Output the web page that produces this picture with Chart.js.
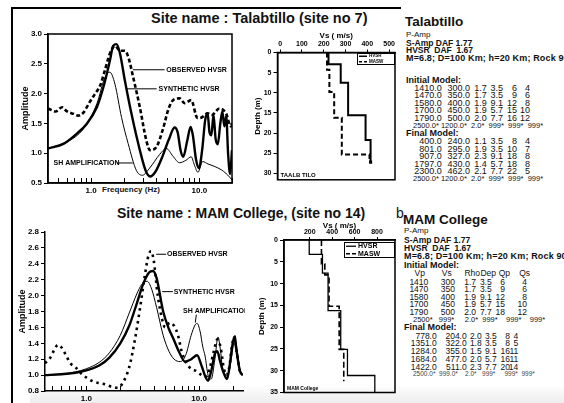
<!DOCTYPE html>
<html>
<head>
<meta charset="utf-8">
<script src="https://cdn.jsdelivr.net/npm/chart.js@4.4.0/dist/chart.umd.min.js"></script>
<style>
  body { margin:0; width:564px; height:403px; overflow:hidden; background:#fff; position:relative;
         font-family:"Liberation Sans", Arial, sans-serif; color:#111; }
  canvas { position:absolute; }
  .t { position:absolute; white-space:pre; line-height:1; }
  .b { font-weight:bold; }
</style>
</head>
<body>
<div style="position:absolute;left:30px;top:384px;width:534px;height:19px;background:linear-gradient(to bottom, rgba(0,0,0,0), rgba(0,0,0,0.07))"></div>
<div style="position:absolute;left:11px;top:7px;width:2px;height:396px;background:#000"></div>
<div style="position:absolute;left:11px;top:7px;width:390px;height:2px;background:#000"></div>

<div class="t b" style="left:151px;top:11px;font-size:14.5px">Site name : Talabtillo (site no 7)</div>
<div class="t b" style="left:117px;top:206px;font-size:14px">Site name : MAM College, (site no 14)</div>
<div class="t" style="left:396px;top:206px;font-size:14px">b</div>
<div class="t b" style="left:81px;top:186px;width:100px;text-align:center;font-size:8px">Frequency (Hz)</div>

<canvas id="hvsr1" width="228" height="182" style="left:14px;top:24px"></canvas>
<canvas id="vs1" width="154" height="160" style="left:246px;top:26px"></canvas>
<canvas id="hvsr2" width="236" height="183" style="left:14px;top:220px"></canvas>
<canvas id="vs2" width="152" height="185" style="left:248px;top:218px"></canvas>

<div id="txt"></div>

<script>
// ---- Talabtillo (site 7) HVSR curves ----
const obsF1 = [0.40,0.47,0.54,0.60,0.69,0.76,0.85,0.95,1.09,1.21,1.34,1.49,1.66,1.85,2.05,2.20,2.45,2.82,3.24,3.50,4.00,4.60,5.20,5.80,6.55,7.30,8.40,9.60,10.5,11.9,13.0,15.3,17.6,19.5,20.0];
const obsA1 = [1.75,1.70,1.77,1.70,1.66,1.63,1.68,1.83,2.00,2.13,2.39,2.67,2.80,2.72,2.72,2.62,2.27,1.77,1.21,1.05,1.10,1.40,1.75,1.90,1.92,1.84,1.89,1.59,1.60,1.67,1.64,1.75,1.67,1.45,1.50];
const synF1 = [0.40,0.56,0.74,0.91,1.13,1.30,1.49,1.60,1.72,1.85,2.05,2.36,2.82,3.20,3.50,3.90,4.50,5.20,5.90,6.30,6.70,7.10,7.70,8.30,8.70,9.30,9.90,10.6,11.3,11.9,12.4,12.9,13.5,14.1,14.8,15.6,16.3,17.0,17.7,18.4,19.2,20.0];
const synA1 = [1.08,1.16,1.33,1.49,1.77,2.11,2.55,2.80,2.83,2.67,2.22,1.66,1.05,0.70,0.61,0.68,0.92,1.22,1.43,1.35,1.05,0.94,1.20,1.44,1.30,0.90,0.75,1.05,1.55,1.67,1.35,1.30,1.64,1.25,1.15,1.50,1.70,1.45,1.62,1.00,0.65,1.05];
const shF1 = [0.40,0.60,0.85,1.13,1.34,1.49,1.66,1.91,2.20,2.62,2.98,3.47,4.30,4.95,5.70,6.55,7.50,8.40,9.00,9.70,10.7,12.0,13.7,16.0,17.6,19.0,20.0];
const shA1 = [1.08,1.19,1.41,1.83,2.27,2.36,2.16,1.60,1.16,0.71,0.63,0.75,0.98,1.08,0.95,0.84,0.88,0.94,0.80,0.68,0.86,0.82,0.78,0.72,0.66,0.60,0.55];

// ---- MAM College (site 14) HVSR curves ----
const obsF2 = [0.43,0.48,0.52,0.56,0.60,0.66,0.72,0.80,0.90,1.00,1.15,1.30,1.50,1.70,1.90,2.10,2.40,2.70,3.00,3.30,3.55,3.75,3.95,4.30,4.70,5.00,5.50,6.00,6.50,7.00,7.70,8.50,9.50,10.5,11.5,12.5,13.5,14.5,15.5,16.5,17.5,18.5,19.5,20.5,21.5,23.0,24.5];
const obsA2 = [1.15,1.22,1.32,1.38,1.35,1.25,1.15,1.10,1.02,0.97,0.92,0.90,0.88,0.85,0.84,0.90,1.10,1.45,1.85,2.25,2.50,2.56,2.45,2.00,1.70,1.60,1.66,1.62,1.50,1.30,1.15,1.08,1.05,1.00,0.98,1.10,1.30,1.45,1.35,1.10,1.00,1.10,1.35,1.48,1.30,1.05,1.00];
const synF2 = [0.43,0.60,0.80,1.00,1.30,1.60,2.00,2.40,2.80,3.20,3.60,3.90,4.20,4.80,5.40,5.90,6.60,7.50,8.50,9.60,10.5,11.3,12.0,12.8,13.8,14.5,15.3,16.3,17.7,18.8,19.6,20.5,21.5,23.0,24.5];
const synA2 = [1.00,1.01,1.03,1.06,1.12,1.22,1.40,1.62,1.90,2.15,2.29,2.31,2.22,1.80,1.58,1.46,1.30,1.17,1.20,1.25,1.12,0.99,0.93,1.05,1.27,1.30,1.18,1.05,0.95,1.15,1.35,1.48,1.30,1.05,1.00];
const shF2 = [0.43,0.60,0.80,1.00,1.30,1.60,2.00,2.40,2.80,3.10,3.46,3.80,4.20,4.80,5.40,6.00,6.80,7.60,8.50,9.20,9.60,10.2,10.8,11.3,12.0,12.8,13.8,14.7,15.5,16.3,17.9,19.5,20.8,21.8,23.0,24.5];
const shA2 = [1.00,1.01,1.04,1.08,1.16,1.28,1.50,1.78,2.02,2.14,2.18,2.08,1.85,1.50,1.30,1.20,1.17,1.25,1.50,1.63,1.65,1.55,1.35,1.24,1.00,0.95,1.20,1.48,1.30,1.04,1.00,1.25,1.50,1.30,1.08,1.00];

// frequency ticks (only 1 and 10 get labels)
const freqTicks = [0.5,0.6,0.7,0.8,0.9,1,2,3,4,5,6,7,8,9,10,20];

// ---- Vs profiles: layer boundaries (m) and Vs (m/s) ----
const talDepthH = [0, 2.9, 7.5, 15.6, 21.7, 27.2];
const talVsH    = [222, 278, 312, 392, 415];
const talDepthM = [0, 4.3, 9.8, 16.2, 25.3, 27.2];
const talVsM    = [215, 226, 248, 283, 410];
const talVsTicks = [0, 100, 200, 300, 400, 500];

const mamDepthH = [0, 3.3, 7.6, 16.2, 25.1, 31.1, 35];
const mamVsH    = [195, 313, 363, 476, 536, 780];
const mamDepthM = [0, 5.5, 8.0, 15.2, 25.1, 32.4];
const mamVsM    = [304, 334, 372, 462, 503];
const mamVsTicks = [200, 400, 600, 800];

// ---- model tables ----
const talHead = ['P-Amp', 'S-Amp DAF 1.77', 'HVSR  DAF  1.67', 'M=6.8; D=100 Km; h=20 Km; Rock 90%'];
const talInit = [
  ['1410.0','300.0','1.7','3.5','6','4'],
  ['1470.0','350.0','1.7','3.5','9','6'],
  ['1580.0','400.0','1.9','9.1','12','8'],
  ['1700.0','450.0','1.9','5.7','15','10'],
  ['1790.0','500.0','2.0','7.7','16','12']
];
const talFinal = [
  ['400.0','240.0','1.1','3.5','8','4'],
  ['801.0','295.0','1.9','3.5','10','7'],
  ['907.0','327.0','2.3','9.1','18','8'],
  ['1797.0','430.0','1.4','5.7','18','8'],
  ['2300.0','462.0','2.1','7.7','22','5']
];
const talLast = '2500.0* 1200.0*  2.0*  999*  999*  999*';
const mamCols = ['Vp','Vs','Rho','Dep','Qp','Qs'];
const mamInit = [
  ['1410','300','1.7','3.5','6','4'],
  ['1470','350','1.7','3.5','9','6'],
  ['1580','400','1.9','9.1','12','8'],
  ['1700','450','1.9','5.7','15','10'],
  ['1790','500','2.0','7.7','18','12']
];
const mamInitLast = '2500*   999*     2.0*  999*    999*    999*';
const mamFinal = [
  ['778.0','204.0','2.0','3.5','8','4'],
  ['1351.0','322.0','1.8','3.5','8','5'],
  ['1284.0','355.0','1.5','9.1','16','11'],
  ['1684.0','477.0','2.0','5.7','16','11'],
  ['1422.0','511.0','2.3','7.7','20','14']
];
const mamLast = '2500.0*  999.0*    2.0*   999*     999*  999*';

Chart.defaults.font.family = '"Liberation Sans", Arial, sans-serif';
Chart.defaults.color = '#000';

// small drawing helpers --------------------------------------------------
Chart.register({
  id: 'tickInward',
  afterDraw(chart, args, o) {
    if (!o.len) return;
    const s = chart.scales.x, ctx = chart.ctx, b = chart.chartArea.bottom;
    ctx.save(); ctx.strokeStyle = '#000'; ctx.lineWidth = 1;
    s.ticks.forEach(t => {
      const px = Math.round(s.getPixelForValue(t.value)) + 0.5;
      ctx.beginPath(); ctx.moveTo(px, b); ctx.lineTo(px, b - o.len); ctx.stroke();
    });
    ctx.restore();
  }
});
Chart.register({
  id: 'frame',
  afterDraw(chart, args, o) {
    if (!o.on) return;
    const a = chart.chartArea, ctx = chart.ctx;
    ctx.save(); ctx.strokeStyle = '#000'; ctx.lineWidth = o.width || 1.5;
    ctx.strokeRect(a.left, a.top, a.right - a.left, a.bottom - a.top);
    ctx.restore();
  }
});
Chart.register({
  id: 'notes',
  afterDatasetsDraw(chart, args, o) {
    if (!o.items) return;
    const x = chart.scales.x, y = chart.scales.y, ctx = chart.ctx, a = chart.chartArea;
    ctx.save();
    ctx.beginPath(); ctx.rect(a.left, 0, a.right - a.left + 2, chart.height); ctx.clip();
    ctx.font = 'bold 7px "Liberation Sans", Arial, sans-serif';
    ctx.fillStyle = '#000'; ctx.strokeStyle = '#000'; ctx.lineWidth = 1;
    ctx.textBaseline = 'middle';
    o.items.forEach(n => {
      ctx.beginPath();
      ctx.moveTo(x.getPixelForValue(n.from[0]), y.getPixelForValue(n.from[1]));
      ctx.lineTo(x.getPixelForValue(n.to[0]), y.getPixelForValue(n.to[1]));
      ctx.stroke();
      ctx.fillText(n.text, x.getPixelForValue(n.at[0]), y.getPixelForValue(n.at[1]));
    });
    ctx.restore();
  }
});
Chart.register({
  id: 'vsKey',
  afterDraw(chart, args, o) {
    if (!o.w) return;
    const a = chart.chartArea, ctx = chart.ctx;
    const x0 = a.right - o.w - 1, y0 = a.top + o.dy;
    ctx.save();
    ctx.fillStyle = '#fff'; ctx.fillRect(x0, y0, o.w, o.h);
    ctx.strokeStyle = '#000'; ctx.lineWidth = 1; ctx.strokeRect(x0 + 0.5, y0 + 0.5, o.w, o.h);
    ctx.font = 'bold ' + o.fs + 'px "Liberation Sans", Arial, sans-serif';
    ctx.fillStyle = '#000'; ctx.textBaseline = 'middle';
    const rows = [['HVSR', []], ['MASW', [o.dash, 2]]];
    rows.forEach((r, i) => {
      const yy = y0 + o.h * (i + 0.5) / 2 + 0.5;
      ctx.setLineDash(r[1]); ctx.lineWidth = o.lw;
      ctx.beginPath(); ctx.moveTo(x0 + 2, yy); ctx.lineTo(x0 + 2 + o.len, yy); ctx.stroke();
      ctx.setLineDash([]);
      ctx.fillText(r[0], x0 + 4 + o.len, yy);
    });
    ctx.restore();
  }
});
Chart.register({
  id: 'corner',
  afterDraw(chart, args, o) {
    if (!o.text) return;
    const a = chart.chartArea, ctx = chart.ctx;
    ctx.save();
    ctx.font = 'bold ' + o.fs + 'px "Liberation Sans", Arial, sans-serif';
    ctx.fillStyle = '#000'; ctx.textBaseline = 'bottom';
    ctx.fillText(o.text, a.left + 3, a.bottom - 1);
    ctx.restore();
  }
});

function pairs(fs, as) { return fs.map((f, i) => ({ x: f, y: as[i] })); }
function steps(depths, vs) {
  const pts = [];
  vs.forEach((v, i) => { pts.push({ x: v, y: depths[i] }); pts.push({ x: v, y: depths[i + 1] }); });
  return pts;
}

function hvsrChart(id, c) {
  const line = (data, w, dash) => ({
    data, borderColor: '#000', borderWidth: w, borderDash: dash, pointRadius: 0,
    showLine: true, tension: 0.4, cubicInterpolationMode: 'monotone', fill: false
  });
  new Chart(document.getElementById(id), {
    type: 'scatter',
    data: { datasets: [
      line(pairs(c.obsF, c.obsA), 2.6, c.obsDash),
      line(pairs(c.synF, c.synA), 2.4, []),
      line(pairs(c.shF, c.shA), 1, [])
    ]},
    options: {
      responsive: false, animation: false, events: [],
      layout: { padding: { top: c.padTop, right: c.padRight, left: 0, bottom: 0 } },
      plugins: {
        legend: { display: false }, tooltip: { enabled: false },
        tickInward: { len: 5 }, frame: { on: c.box, width: 1.5 }, notes: { items: c.notes }
      },
      scales: {
        x: {
          type: 'logarithmic', min: c.fMin, max: c.fMax,
          afterBuildTicks: s => { s.ticks = freqTicks.filter(v => v >= c.fMin && v <= c.fMax).map(v => ({ value: v })); },
          afterFit: s => { s.height = c.xH; },
          ticks: { autoSkip: false, maxRotation: 0, padding: 3, font: { size: 8, weight: 'bold' },
                   callback: v => v === 1 ? '1.0' : v === 10 ? '10.0' : '' },
          grid: { display: false, drawTicks: false },
          border: { display: true, color: '#000', width: 1.5 }
        },
        y: {
          min: c.aMin, max: c.aMax,
          afterFit: s => { s.width = c.yW; },
          ticks: { stepSize: c.aStep, padding: 2, font: { size: 8, weight: 'bold' }, callback: v => v.toFixed(1) },
          grid: { drawOnChartArea: false, drawTicks: true, tickLength: 4, color: '#000', lineWidth: 1 },
          border: { display: true, color: '#000', width: 1.5 },
          title: { display: true, text: 'Amplitude', font: { size: 9, weight: 'bold' }, padding: { top: c.yTitlePad, bottom: 0 } }
        }
      }
    }
  });
}

function vsChart(id, c) {
  new Chart(document.getElementById(id), {
    type: 'scatter',
    data: { datasets: [
      { data: steps(c.dH, c.vH), showLine: true, borderColor: '#000', borderWidth: c.lwH, tension: 0,
        pointRadius: ctx => (c.endMark && ctx.dataIndex === c.vH.length * 2 - 1) ? 2.2 : 0, pointStyle: 'rect',
        pointBackgroundColor: '#000', pointBorderWidth: 0 },
      { data: steps(c.dM, c.vM), showLine: true, borderColor: '#000', borderWidth: c.lwM, borderDash: c.dash,
        tension: 0, pointRadius: 0 }
    ]},
    options: {
      responsive: false, animation: false, events: [],
      layout: { padding: { top: 0, right: c.padRight, left: 0, bottom: c.padBottom } },
      plugins: {
        legend: { display: false }, tooltip: { enabled: false },
        frame: { on: true, width: 1.5 }, vsKey: c.key, corner: { text: c.tag, fs: c.tagFs }
      },
      scales: {
        x: {
          type: 'linear', position: 'top', min: c.vMin, max: c.vMax,
          afterBuildTicks: s => { s.ticks = c.vTicks.map(v => ({ value: v })); },
          afterFit: s => { s.height = c.xH; },
          ticks: { autoSkip: false, maxRotation: 0, padding: 1, font: { size: 7, weight: 'bold' } },
          grid: { drawOnChartArea: false, drawTicks: true, tickLength: 3, color: '#000' },
          border: { display: true, color: '#000', width: 1.5 },
          title: { display: true, text: 'Vs ( m/s)', font: { size: 8, weight: 'bold' }, padding: { top: c.xTitlePad, bottom: 0 } }
        },
        y: {
          type: 'linear', reverse: true, min: 0, max: c.dMax,
          afterFit: s => { s.width = c.yW; },
          ticks: { stepSize: 5, includeBounds: false, padding: 2, font: { size: 7, weight: 'bold' } },
          grid: { drawOnChartArea: false, drawTicks: true, tickLength: 4, color: '#000' },
          border: { display: true, color: '#000', width: 1.5 },
          title: { display: true, text: 'Depth (m)', font: { size: 8, weight: 'bold' }, padding: { top: c.yTitlePad, bottom: 0 } }
        }
      }
    }
  });
}

hvsrChart('hvsr1', {
  obsF: obsF1, obsA: obsA1, synF: synF1, synA: synA1, shF: shF1, shA: shA1, obsDash: [4, 2.5],
  fMin: 0.4, fMax: 20, aMin: 0.5, aMax: 3.0, aStep: 0.5,
  padTop: 10, padRight: 10, yW: 34, xH: 23, yTitlePad: 6, box: true,
  notes: [
    { text: 'OBSERVED HVSR', at: [4.95, 2.40], from: [2.43, 2.40], to: [4.77, 2.40] },
    { text: 'SYNTHETIC HVSR', at: [4.2, 2.08], from: [2.14, 2.08], to: [4.03, 2.08] },
    { text: 'SH AMPLIFICATION', at: [0.45, 0.836], from: [1.73, 0.836], to: [2.43, 0.836] }
  ]
});
hvsrChart('hvsr2', {
  obsF: obsF2, obsA: obsA2, synF: synF2, synA: synA2, shF: shF2, shA: shA2, obsDash: [2.5, 4],
  fMin: 0.43, fMax: 24.5, aMin: 0.8, aMax: 2.8, aStep: 0.2,
  padTop: 12, padRight: 7, yW: 31, xH: 12, yTitlePad: 3, box: false,
  notes: [
    { text: 'OBSERVED HVSR', at: [5.2, 2.52], from: [4.16, 2.52], to: [5.1, 2.52] },
    { text: 'SYNTHETIC HVSR', at: [5.95, 2.05], from: [4.7, 2.05], to: [5.85, 2.05] },
    { text: 'SH AMPLIFICATION', at: [7.2, 1.80], from: [9.45, 1.76], to: [9.25, 1.66] }
  ]
});

vsChart('vs1', {
  dH: talDepthH, vH: talVsH, dM: talDepthM, vM: talVsM, lwH: 2, lwM: 2, dash: [5, 3], endMark: true,
  vMin: -12, vMax: 527, vTicks: talVsTicks, dMax: 31.6,
  padRight: 5, padBottom: 4, yW: 31.5, xH: 26.5, xTitlePad: 5, yTitlePad: 7,
  key: { w: 37, h: 11, dy: 0.5, fs: 4.5, len: 8, lw: 1.5, dash: 3 }, tag: 'TAALB TILO', tagFs: 6
});
vsChart('vs2', {
  dH: mamDepthH, vH: mamVsH, dM: mamDepthM, vM: mamVsM, lwH: 1.3, lwM: 1.6, dash: [6, 3], endMark: false,
  vMin: -30, vMax: 960, vTicks: mamVsTicks, dMax: 35,
  padRight: 5, padBottom: 10.5, yW: 36, xH: 22, xTitlePad: 3, yTitlePad: 9,
  key: { w: 50, h: 15, dy: 2, fs: 7, len: 10, lw: 1.3, dash: 4 }, tag: 'MAM College', tagFs: 5
});

// ---- text blocks ----
const box = document.getElementById('txt');
function put(text, left, yc, fs, opts) {
  opts = opts || {};
  const d = document.createElement('div');
  d.className = 't' + (opts.bold ? ' b' : '');
  d.textContent = text;
  d.style.fontSize = fs + 'px';
  d.style.top = (yc - 0.49 * fs) + 'px';
  if (opts.right != null) d.style.right = (564 - opts.right) + 'px';
  else d.style.left = left + 'px';
  if (opts.color) d.style.color = opts.color;
  if (opts.ls) d.style.letterSpacing = opts.ls + 'px';
  box.appendChild(d);
}
function rowsAt(rows, ys, rights, fs) {
  rows.forEach((r, i) => r.forEach((cell, j) => put(cell, 0, ys[i], fs, { right: rights[j] })));
}

const talCols = [441.7, 470, 486.7, 503, 517, 530];
put('Talabtillo', 405, 21.5, 13.5, { bold: true });
put(talHead[0], 406, 35, 8);
put(talHead[1], 406, 43, 8.5, { bold: true });
put(talHead[2], 406, 50.5, 8.5, { bold: true });
put(talHead[3], 406, 58, 9, { bold: true, ls: 0.15 });
put('Initial Model:', 406, 80, 9, { bold: true });
rowsAt(talInit, [88.3, 95.7, 103.3, 110.7, 118.3], talCols, 9);
put(talLast, 413, 125.7, 7.5);
put('Final Model:', 406, 133.3, 9, { bold: true });
rowsAt(talFinal, [141.7, 149, 156.7, 164, 171.7], talCols, 9);
put(talLast, 413, 179, 7.5);

put('MAM College', 403, 220, 13.5, { bold: true });
put(talHead[0], 404, 231, 8);
put(talHead[1], 404, 240, 8.5, { bold: true });
put(talHead[2], 404, 248.3, 8.5, { bold: true });
put(talHead[3], 404, 256.7, 9, { bold: true, ls: 0.15 });
put('Initial Model:', 404, 265, 9, { bold: true });
rowsAt([mamCols], [273.3], [425, 451.7, 480, 496, 510, 530], 8.5);
rowsAt(mamInit, [281.7, 289, 296.7, 304.3, 312.3], [428.3, 455, 476, 491.7, 505, 527], 8.5);
put(mamInitLast, 413, 320, 7.5);
put('Final Model:', 404, 327.7, 9, { bold: true });
rowsAt(mamFinal, [335.7, 343.3, 351, 359, 366.7], [436.7, 466.7, 481.7, 496.7, 510, 518.3], 8.5);
put(mamLast, 413, 374.3, 6.5, { color: '#444' });
</script>
</body>
</html>
